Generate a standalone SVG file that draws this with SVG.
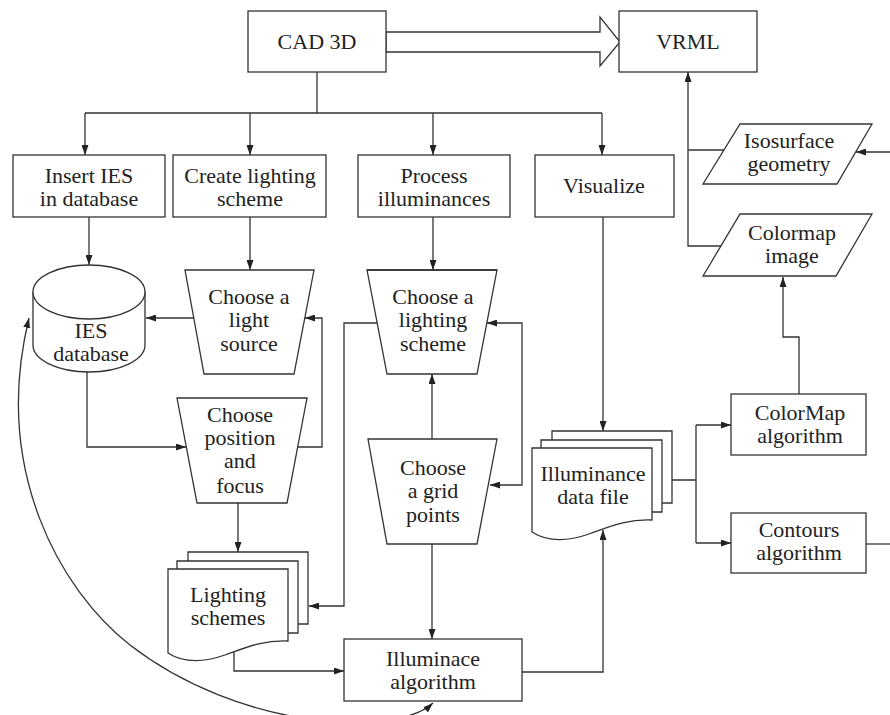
<svg xmlns="http://www.w3.org/2000/svg" width="890" height="715" viewBox="0 0 890 715">
<style>
.s{fill:#fff;stroke:#333;stroke-width:1.3}
.c{fill:none;stroke:#333;stroke-width:1.3}
.t{font-family:"Liberation Serif","Times New Roman",serif;font-size:22px;fill:#222;text-anchor:middle}
</style>
<defs>
<marker id="ah" viewBox="0 0 10 7" refX="10" refY="3.5" markerWidth="10" markerHeight="7" markerUnits="userSpaceOnUse" orient="auto-start-reverse">
<path d="M0,0 L10,3.5 L0,7 z" fill="#222"/>
</marker>
</defs>
<rect width="890" height="715" fill="#fff"/>

<g id="connectors">
<path class="c" d="M317,72 V113 M85,113 H602"/>
<path class="c" d="M85,113 V155" marker-end="url(#ah)"/>
<path class="c" d="M250,113 V155" marker-end="url(#ah)"/>
<path class="c" d="M433,113 V155" marker-end="url(#ah)"/>
<path class="c" d="M602,113 V155" marker-end="url(#ah)"/>
<path class="s" d="M386,32 H600 V17 L620,42 L600,66 V52 H386 Z"/>
<path class="c" d="M89,217 V265" marker-end="url(#ah)"/>
<path class="c" d="M250,217 V270" marker-end="url(#ah)"/>
<path class="c" d="M433,217 V270" marker-end="url(#ah)"/>
<path class="c" d="M603,217 V431" marker-end="url(#ah)"/>
<path class="c" d="M194,318 H146" marker-end="url(#ah)"/>
<path class="c" d="M87,372 V447 H186" marker-end="url(#ah)"/>
<path class="c" d="M298,447 H322 V318 H305" marker-end="url(#ah)"/>
<path class="c" d="M238,503 V552" marker-end="url(#ah)"/>
<path class="c" d="M377,323 H344 V606 H309" marker-end="url(#ah)"/>
<path class="c" d="M432,439 V374" marker-end="url(#ah)"/>
<path class="c" d="M487,323 H522 V485 H490" marker-start="url(#ah)" marker-end="url(#ah)"/>
<path class="c" d="M432,544 V639" marker-end="url(#ah)"/>
<path class="c" d="M234,652 V671 H344" marker-end="url(#ah)"/>
<path class="c" d="M522,672 H603 V530" marker-end="url(#ah)"/>
<path class="c" d="M672,480 H696 M696,425 V543"/>
<path class="c" d="M696,425 H731" marker-end="url(#ah)"/>
<path class="c" d="M696,543 H731" marker-end="url(#ah)"/>
<path class="c" d="M890,544 H866"/>
<path class="c" d="M799,394 V337 H783 V277" marker-end="url(#ah)"/>
<path class="c" d="M721,246 H688 V72" marker-end="url(#ah)"/>
<path class="c" d="M724,150 H688"/>
<path class="c" d="M890,152 H856" marker-end="url(#ah)"/>
<path class="c" d="M433,703 C395,738 240,730 130,645 C60,590 -8,470 29,318" marker-start="url(#ah)" marker-end="url(#ah)"/>
</g>

<g id="cad3d"><rect class="s" x="248" y="11" width="138" height="61"/><text class="t" x="317" y="49">CAD 3D</text></g>
<g id="vrml"><rect class="s" x="619" y="11" width="138" height="61"/><text class="t" x="688" y="49">VRML</text></g>

<g id="insert-ies"><rect class="s" x="13" y="155" width="152" height="62"/><text class="t" x="89" y="183">Insert IES</text><text class="t" x="89" y="206">in database</text></g>
<g id="create-lighting"><rect class="s" x="173" y="155" width="153" height="62"/><text class="t" x="250" y="183">Create lighting</text><text class="t" x="250" y="206">scheme</text></g>
<g id="process-illum"><rect class="s" x="358" y="155" width="152" height="62"/><text class="t" x="434" y="183">Process</text><text class="t" x="434" y="206">illuminances</text></g>
<g id="visualize"><rect class="s" x="535" y="155" width="139" height="62"/><text class="t" x="604" y="193">Visualize</text></g>

<g id="isosurface"><path class="s" d="M740,124 H872 L837,184 H703 Z"/><text class="t" x="789" y="148">Isosurface</text><text class="t" x="789" y="171">geometry</text></g>
<g id="colormap-image"><path class="s" d="M740,214 H872 L836,276 H703 Z"/><text class="t" x="792" y="240">Colormap</text><text class="t" x="792" y="263">image</text></g>

<g id="ies-db">
<path class="s" d="M33,292 V345 A56,27 0 0 0 145,345 V292"/>
<ellipse class="s" cx="89" cy="292" rx="56" ry="27"/>
<text class="t" x="91" y="338">IES</text><text class="t" x="91" y="361">database</text>
</g>

<g id="choose-light-source"><path class="s" d="M185,270 H314 L294,374 H204 Z"/><text class="t" x="249" y="304">Choose a</text><text class="t" x="249" y="327">light</text><text class="t" x="249" y="351">source</text></g>
<g id="choose-position"><path class="s" d="M177,398 H307 L287,503 H197 Z"/><text class="t" x="240" y="422">Choose</text><text class="t" x="240" y="445">position</text><text class="t" x="240" y="468">and</text><text class="t" x="240" y="493">focus</text></g>
<g id="choose-lighting-scheme"><path class="s" d="M367,270 H497 L477,374 H387 Z"/><path class="c" d="M367,270 H497" stroke-width="2"/><text class="t" x="433" y="304">Choose a</text><text class="t" x="433" y="327">lighting</text><text class="t" x="433" y="351">scheme</text></g>
<g id="choose-grid"><path class="s" d="M368,439 H497 L477,544 H387 Z"/><text class="t" x="433" y="475">Choose</text><text class="t" x="433" y="498">a grid</text><text class="t" x="433" y="522">points</text></g>

<g id="lighting-schemes">
<path class="s" d="M188,561 V552 H308 V624 H298"/>
<path class="s" d="M177,569 V561 H298 V633 H288"/>
<path class="s" d="M168,569 H288 V641 C262,640 245,648 225,655 C205,662 185,664 168,653 Z"/>
<text class="t" x="228" y="602">Lighting</text><text class="t" x="228" y="625">schemes</text>
</g>

<g id="illum-data-file">
<path class="s" d="M552,440 V431 H672 V503 H662"/>
<path class="s" d="M541,448 V440 H662 V512 H652"/>
<path class="s" d="M532,448 H652 V520 C626,519 609,527 589,534 C569,541 549,543 532,532 Z"/>
<text class="t" x="593" y="481">Illuminance</text><text class="t" x="593" y="504">data file</text>
</g>

<g id="illuminace-algorithm"><rect class="s" x="344" y="639" width="178" height="62"/><text class="t" x="433" y="666">Illuminace</text><text class="t" x="433" y="689">algorithm</text></g>
<g id="colormap-algorithm"><rect class="s" x="731" y="394" width="135" height="61"/><text class="t" x="800" y="420">ColorMap</text><text class="t" x="800" y="443">algorithm</text></g>
<g id="contours-algorithm"><rect class="s" x="731" y="513" width="135" height="60"/><text class="t" x="799" y="537">Contours</text><text class="t" x="799" y="560">algorithm</text></g>
</svg>
